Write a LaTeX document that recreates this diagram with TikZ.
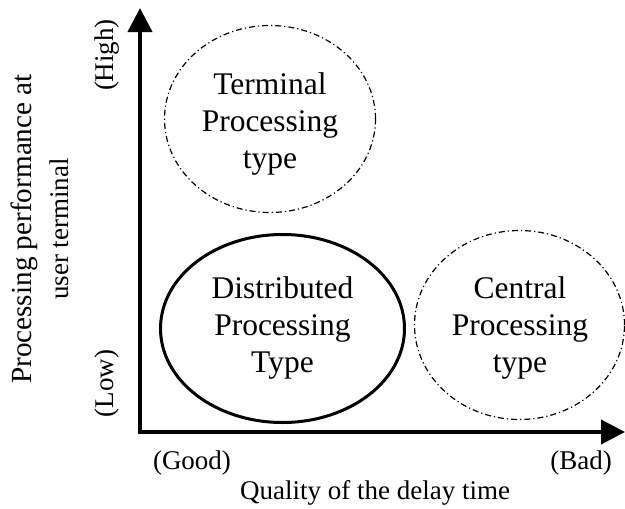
\documentclass[tikz,border=0pt]{standalone}
\usepackage{fontspec}
\setmainfont{Liberation Serif}
\usetikzlibrary{arrows.meta,shapes.geometric}

\tikzset{
  axis/.style={line width=4pt, line join=miter,
    {Triangle[length=24pt,width=24pt]}-{Triangle[length=24pt,width=24pt]}},
  dashdot/.style={draw, ellipse, line width=1.2pt,
    dash pattern=on 6pt off 3pt on 1.2pt off 3pt},
  solidring/.style={draw, ellipse, line width=3pt},
  typetext/.style={align=center, inner sep=0pt,
    font=\fontsize{31.5}{37}\selectfont},
  axlabel/.style={inner sep=0pt, anchor=base,
    font=\fontsize{27}{30}\selectfont},
}

\begin{document}
\begin{tikzpicture}[x=1pt,y=-1pt]
  \useasboundingbox (0,0) rectangle (625,509);

  % axes
  \coordinate (origin) at (140,432);
  \coordinate (ytip) at (140,8);
  \coordinate (xtip) at (625,432);
  \draw[axis] (ytip) -- (origin) -- (xtip);

  % regions
  \node[dashdot, minimum width=211pt, minimum height=187pt] (terminal) at (270,119) {};
  \node[solidring, minimum width=244pt, minimum height=188pt] (distributed) at (282.5,328.5) {};
  \node[dashdot, minimum width=210pt, minimum height=189pt] (central) at (519.5,325) {};

  \node[typetext] (terminaltext) at (270,123.5) {Terminal\\Processing\\type};
  \node[typetext] (distributedtext) at (282.5,328) {Distributed\\Processing\\Type};
  \node[typetext] (centraltext) at (520,328) {Central\\Processing\\type};

  % horizontal axis labels
  \node[axlabel] (good) at (192,469) {(Good)};
  \node[axlabel] (bad) at (581,469) {(Bad)};
  \node[axlabel] (xtitle) at (375,499) {Quality of the delay time};

  % vertical axis labels
  \node[axlabel, rotate=90] (high) at (113.5,55) {(High)};
  \node[axlabel, rotate=90] (low) at (113.5,383.5) {(Low)};
  \node[axlabel, rotate=90, font=\fontsize{29.2}{32}\selectfont] (ytitle1) at (31,229) {Processing performance at};
  \node[axlabel, rotate=90] (ytitle2) at (68,229) {user terminal};
\end{tikzpicture}
\end{document}
